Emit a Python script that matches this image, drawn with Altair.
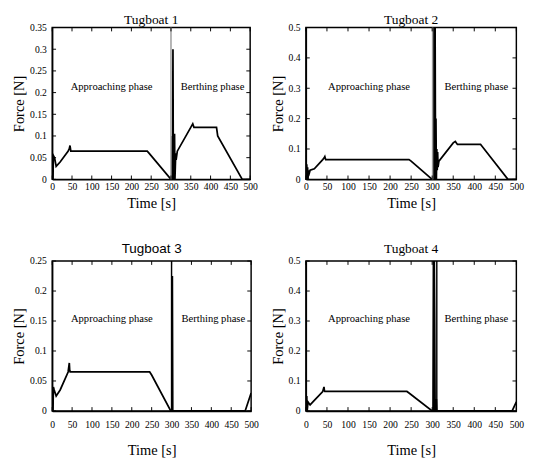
import altair as alt
import pandas as pd

TITLES = ["Tugboat 1", "Tugboat 2", "Tugboat 3", "Tugboat 4"]
Y_MAX = [0.35, 0.5, 0.25, 0.5]
Y_TICKS = [
    [0, 0.05, 0.1, 0.15, 0.2, 0.25, 0.3, 0.35],
    [0, 0.1, 0.2, 0.3, 0.4, 0.5],
    [0, 0.05, 0.1, 0.15, 0.2, 0.25],
    [0, 0.1, 0.2, 0.3, 0.4, 0.5],
]
X_TICKS = [0, 50, 100, 150, 200, 250, 300, 350, 400, 450, 500]

T1_TIME = [0, 1, 2, 3, 6, 10, 20, 40, 43, 45, 47, 240, 245, 300, 302, 303, 304, 305, 306, 307, 308, 309, 310, 312, 313, 316, 350, 355, 358, 415, 418, 480, 500]
T1_FORCE = [0.0, 0.055, 0.0, 0.055, 0.05, 0.03, 0.04, 0.065, 0.07, 0.078, 0.065, 0.065, 0.06, 0.0, 0.0, 0.1, 0.0, 0.3, 0.0, 0.1, 0.02, 0.105, 0.0, 0.06, 0.045, 0.065, 0.12, 0.128, 0.12, 0.12, 0.1, 0.0, 0.0]

T2_TIME = [0, 1, 2, 3, 4, 5, 6, 8, 10, 20, 40, 43, 45, 47, 245, 250, 300, 302, 303, 304, 305, 306, 307, 308, 309, 310, 311, 312, 313, 314, 316, 350, 355, 360, 415, 418, 480, 500]
T2_FORCE = [0.08, 0.0, 0.05, 0.0, 0.04, 0.0, 0.03, 0.02, 0.03, 0.035, 0.065, 0.07, 0.075, 0.065, 0.065, 0.06, 0.0, 0.0, 0.5, 0.0, 0.5, 0.0, 0.5, 0.0, 0.2, 0.0, 0.1, 0.03, 0.09, 0.04, 0.06, 0.12, 0.125, 0.115, 0.115, 0.11, 0.0, 0.0]

T3_TIME = [0, 1, 2, 3, 5, 10, 20, 40, 43, 44, 45, 245, 250, 298, 301, 302, 303, 304, 485, 500]
T3_FORCE = [0.0, 0.04, 0.0, 0.04, 0.035, 0.025, 0.035, 0.065, 0.08, 0.068, 0.065, 0.065, 0.06, 0.0, 0.0, 0.225, 0.0, 0.0, 0.0, 0.03]

T4_TIME = [0, 1, 2, 3, 5, 10, 20, 40, 43, 44, 45, 240, 245, 300, 302, 303, 304, 305, 306, 307, 309, 310, 311, 312, 490, 500]
T4_FORCE = [0.13, 0.0, 0.05, 0.0, 0.03, 0.02, 0.035, 0.065, 0.08, 0.068, 0.065, 0.065, 0.06, 0.0, 0.0, 0.5, 0.0, 0.5, 0.3, 0.0, 0.0, 0.04, 0.0, 0.0, 0.0, 0.03]

SERIES = [(T1_TIME, T1_FORCE), (T2_TIME, T2_FORCE), (T3_TIME, T3_FORCE), (T4_TIME, T4_FORCE)]

DIVIDER_T = [300, 301, 300, 311]
DIVIDER_COLOR = ["#9a9a9a", "#9a9a9a", "#000000", "#000000"]

PHASE_LABELS = ["Approaching phase", "Berthing phase"]
PHASE_T = [150, 405]
PHASE_FRAC = 0.61

FONT = "Liberation Serif"
WIDTHS = [206, 219, 207, 219]
HEIGHTS = [158, 158, 156, 156]
TITLE_FONTS = [FONT, FONT, "Liberation Sans", FONT]
TITLE_OFFSETS = [-4, -4, 0, 0]
X_LABEL_PAD = [3, 3, 9, 9]
X_TITLE_PAD = [4, 4, 14, 14]


def panel(k):
    t, f = SERIES[k]
    w, h = WIDTHS[k], HEIGHTS[k]
    df = pd.DataFrame({"t": t, "f": f, "i": list(range(len(t)))})
    ymax = Y_MAX[k]
    xs = alt.Scale(domain=[0, 500], nice=False, zero=False)
    ys = alt.Scale(domain=[0, ymax], nice=False)
    common = dict(grid=False, labelFont=FONT, titleFont=FONT, labelFontSize=10,
                  titleFontSize=15, titleFontWeight="normal", labelColor="black",
                  titleColor="black", domainColor="black", domainWidth=1.5,
                  ticks=False, labelOverlap=False, labelFlush=False, labelBound=False)
    xaxis = alt.Axis(values=X_TICKS, title="Time [s]", format="d",
                     labelPadding=X_LABEL_PAD[k], titlePadding=X_TITLE_PAD[k], **common)
    yaxis = alt.Axis(values=Y_TICKS[k], title="Force [N]", format="~g",
                     labelPadding=6, titlePadding=3, **common)
    X = alt.X("t:Q", scale=xs, axis=xaxis)
    line = alt.Chart(df).mark_line(color="black", strokeWidth=1.8, clip=True).encode(
        x=X,
        y=alt.Y("f:Q", scale=ys, axis=yaxis),
        order=alt.Order("i:Q"),
    )
    ddf = pd.DataFrame({"t": [DIVIDER_T[k]], "y0": [0.0], "y1": [ymax]})
    div = alt.Chart(ddf).mark_rule(color=DIVIDER_COLOR[k], strokeWidth=1.5).encode(
        x=X, y=alt.Y("y0:Q", scale=ys, axis=yaxis), y2="y1:Q"
    )
    tdf = pd.DataFrame({"t": PHASE_T, "y": [PHASE_FRAC * ymax] * 2, "label": PHASE_LABELS})
    txt = alt.Chart(tdf).mark_text(font=FONT, fontSize=11, color="black").encode(
        x=X, y=alt.Y("y:Q", scale=ys, axis=yaxis), text="label:N"
    )
    # inward tick marks on all four sides
    xt = pd.DataFrame({"t": X_TICKS})
    yt = pd.DataFrame({"v": Y_TICKS[k]})
    tb = alt.Chart(xt).mark_rule(color="black", strokeWidth=1)
    bottom = tb.encode(x=X, y=alt.value(h), y2=alt.value(h - 4))
    top = tb.encode(x=X, y=alt.value(0), y2=alt.value(4))
    lr = alt.Chart(yt).mark_rule(color="black", strokeWidth=1)
    left = lr.encode(y=alt.Y("v:Q", scale=ys, axis=yaxis), x=alt.value(0), x2=alt.value(4))
    right = lr.encode(y=alt.Y("v:Q", scale=ys, axis=yaxis), x=alt.value(w), x2=alt.value(w - 4))
    return alt.layer(line, div, txt, bottom, top, left, right).properties(
        width=w, height=h,
        title=alt.TitleParams(TITLES[k], font=TITLE_FONTS[k], fontSize=14, fontWeight="normal",
                              color="black", offset=TITLE_OFFSETS[k]),
    )


row1 = alt.hconcat(panel(0), panel(1), spacing=11)
row2 = alt.hconcat(panel(2), panel(3), spacing=10)
chart = alt.vconcat(row1, row2, spacing=32).properties(
    padding={"left": 3, "top": -5, "right": 0, "bottom": 0}
).configure_view(stroke="black", strokeWidth=1.5)

chart.save("out.html", embed_options={"renderer": "svg", "actions": False})
